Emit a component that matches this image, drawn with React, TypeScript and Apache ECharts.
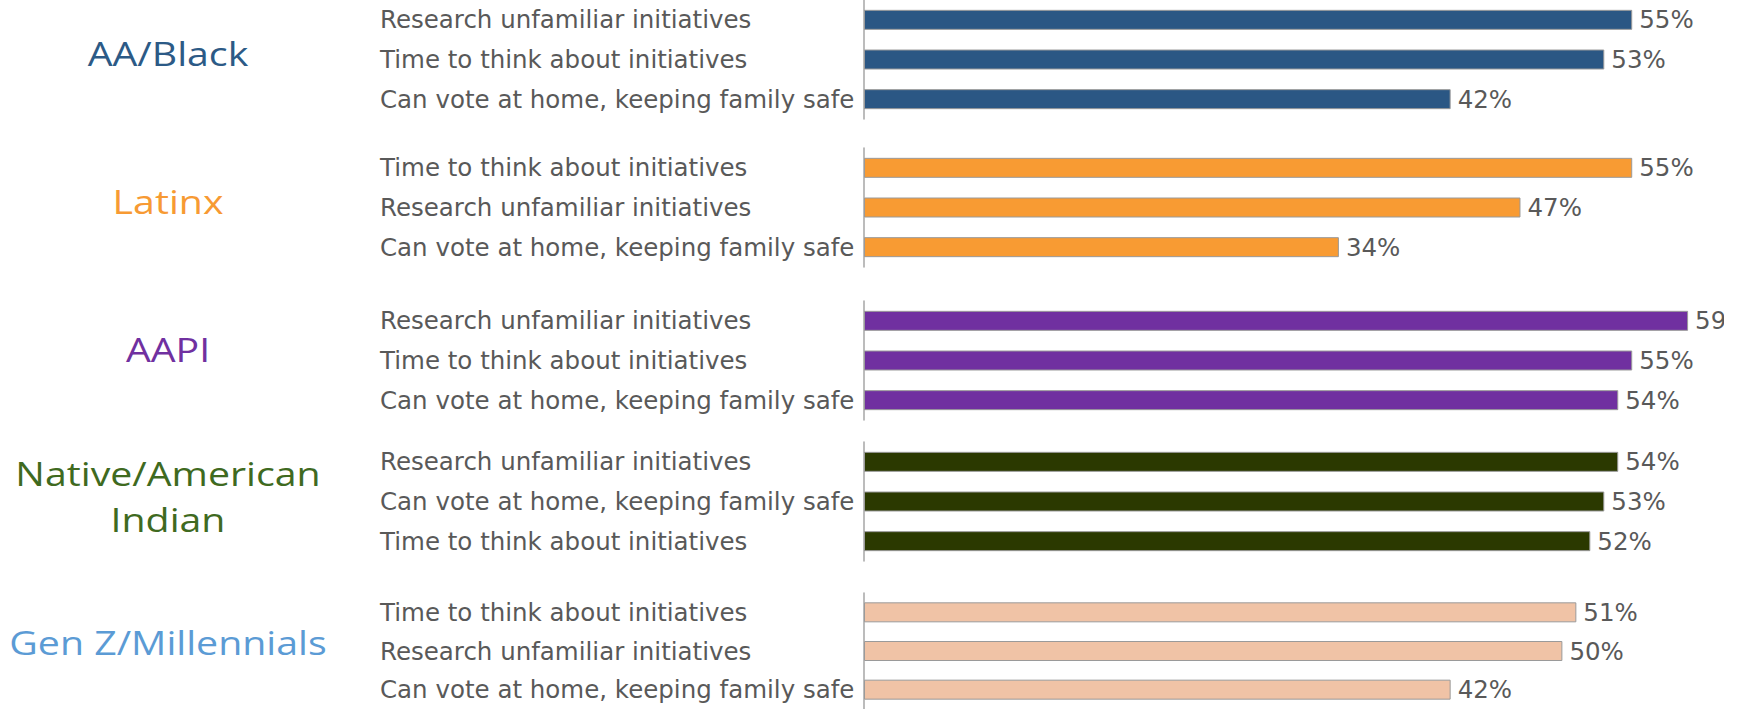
import React, { useEffect, useRef } from "react";
import * as echarts from "echarts";

const groupTitles = ["AA/Black", "Latinx", "AAPI", "Native/American\nIndian", "Gen Z/Millennials"];

const aaBlackCategories = [
  "Research unfamiliar initiatives",
  "Time to think about initiatives",
  "Can vote at home, keeping family safe",
];
const aaBlackValues = [55, 53, 42];

const latinxCategories = [
  "Time to think about initiatives",
  "Research unfamiliar initiatives",
  "Can vote at home, keeping family safe",
];
const latinxValues = [55, 47, 34];

const aapiCategories = [
  "Research unfamiliar initiatives",
  "Time to think about initiatives",
  "Can vote at home, keeping family safe",
];
const aapiValues = [59, 55, 54];

const nativeCategories = [
  "Research unfamiliar initiatives",
  "Can vote at home, keeping family safe",
  "Time to think about initiatives",
];
const nativeValues = [54, 53, 52];

const genZCategories = [
  "Time to think about initiatives",
  "Research unfamiliar initiatives",
  "Can vote at home, keeping family safe",
];
const genZValues = [51, 50, 42];

// styles / layout (kept apart from data)
const barColors = ["#2B5784", "#F89B33", "#7030A0", "#2B3900", "#F0C3A6"];
const titleColors = ["#2C5A86", "#F79A33", "#7030A0", "#3F6A1F", "#5B9BD5"];
const gridTops = [0, 148, 301, 442, 593];
const titleYs = [53, 201, 349, 496, 642];

const panels = [
  { categories: aaBlackCategories, values: aaBlackValues },
  { categories: latinxCategories, values: latinxValues },
  { categories: aapiCategories, values: aapiValues },
  { categories: nativeCategories, values: nativeValues },
  { categories: genZCategories, values: genZValues },
];

export default function App() {
  const ref = useRef<HTMLDivElement>(null);

  useEffect(() => {
    if (!ref.current) return;
    const chart = echarts.init(ref.current, null, { renderer: "svg" });
    const labelFont = "DejaVu Sans";
    chart.setOption({
      animation: false,
      backgroundColor: "#ffffff",
      grid: panels.map((_, i) => ({
        left: 864,
        width: 866,
        top: gridTops[i],
        height: 119,
        containLabel: false,
      })),
      xAxis: panels.map((_, i) => ({
        type: "value",
        gridIndex: i,
        min: 0,
        max: 62,
        show: false,
        splitLine: { show: false },
      })),
      yAxis: panels.map((p, i) => ({
        type: "category",
        gridIndex: i,
        data: p.categories,
        inverse: true,
        axisLine: { show: true, lineStyle: { color: "#a6a6a6", width: 1.5 } },
        axisTick: { show: false },
        splitLine: { show: false },
        axisLabel: {
          color: "#595959",
          fontSize: 24.5,
          fontFamily: labelFont,
          margin: 484,
          align: "left",
        },
      })),
      series: panels.map((p, i) => ({
        type: "bar",
        xAxisIndex: i,
        yAxisIndex: i,
        data: p.values,
        barWidth: 20,
        silent: true,
        itemStyle: { color: barColors[i], borderColor: "#9a9a9a", borderWidth: 1 },
        label: {
          show: true,
          position: "right",
          distance: 7,
          formatter: "{c}%",
          color: "#595959",
          fontSize: 24.5,
          fontFamily: labelFont,
        },
      })),
      graphic: groupTitles.map((t, i) => ({
        type: "text",
        x: 168,
        y: titleYs[i],
        scaleX: 1.19,
        silent: true,
        style: {
          text: t,
          fill: titleColors[i],
          fontSize: 33,
          fontFamily: "Open Sans",
          align: "center",
          verticalAlign: "middle",
          lineHeight: 46,
        },
      })),
    });
    return () => chart.dispose();
  }, []);

  return (
    <div
      style={{
        position: "fixed",
        left: 0,
        top: 0,
        width: 1724,
        height: 709,
        overflow: "hidden",
        background: "#ffffff",
      }}
    >
      <div ref={ref} style={{ width: 1742, height: 709 }} />
    </div>
  );
}
